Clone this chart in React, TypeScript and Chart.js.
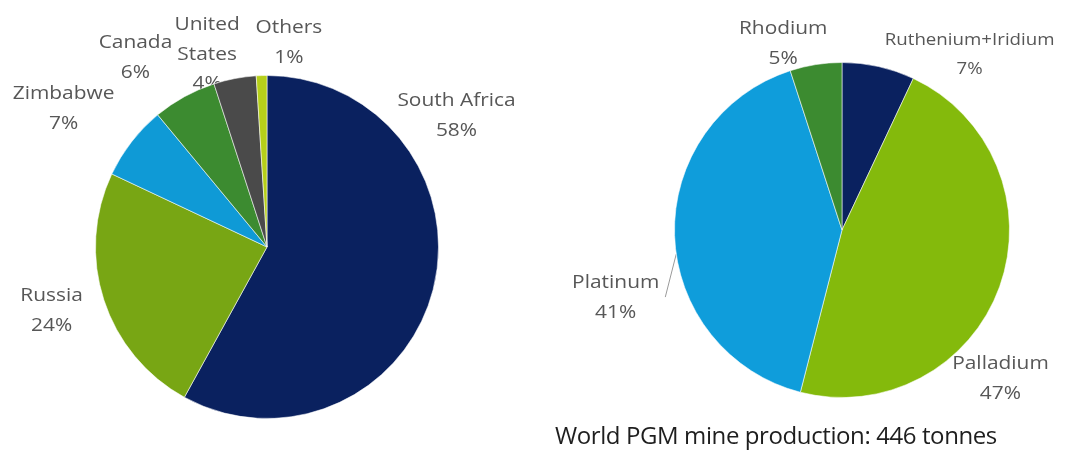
import React, { useEffect, useRef } from "react";
import { Chart, registerables } from "chart.js";

Chart.register(...registerables);

// ---- Data ----
const countryLabels = ["South Africa", "Russia", "Zimbabwe", "Canada", "United States", "Others"];
const countryShares = [58, 24, 7, 6, 4, 1];
const metalLabels = ["Ruthenium+Iridium", "Palladium", "Platinum", "Rhodium"];
const metalShares = [7, 47, 41, 5];
const titleText = "World PGM mine production: 446 tonnes";

// ---- Styles / layout ----
const countryColors = ["#0a215f", "#78a614", "#0f9ad6", "#3c8b30", "#4a4a4a", "#b6cf1a"];
const metalColors = ["#0a215f", "#84ba0c", "#0f9ddb", "#3c8b30"];
// label block centres relative to pie centre, in units of the radius
const countryLabelPos = [
  [1.105, -0.765],
  [-1.256, 0.372],
  [-1.186, -0.808],
  [-0.767, -1.105],
  [-0.349, -1.122],
  [0.128, -1.192],
];
const countryLabelLines = [
  ["South Africa", "58%"],
  ["Russia", "24%"],
  ["Zimbabwe", "7%"],
  ["Canada", "6%"],
  ["United", "States", "4%"],
  ["Others", "1%"],
];
const metalLabelPos = [
  [0.762, -1.048],
  [0.946, 0.887],
  [-1.351, 0.405],
  [-0.351, -1.113],
];
const metalLabelLines = [
  ["Ruthenium+Iridium", "7%"],
  ["Palladium", "47%"],
  ["Platinum", "41%"],
  ["Rhodium", "5%"],
];

const FONT = "'Open Sans', sans-serif";
const STRETCH = 1.1;

function makeLabelPlugin(pos: number[][], lines: string[][], sizes: number[], leader: number | null) {
  return {
    id: "pieLabels",
    beforeDatasetsDraw(chart: any) {
      const meta = chart.getDatasetMeta(0);
      const arc0: any = meta.data[0];
      if (!arc0) return;
      const cx = arc0.x;
      const cy = arc0.y;
      const r = arc0.outerRadius;
      const ctx = chart.ctx;
      ctx.save();
      ctx.fillStyle = "#575757";
      ctx.textAlign = "center";
      ctx.textBaseline = "middle";
      const lh = 29.5;
      pos.forEach((p, i) => {
        const bx = cx + p[0] * r;
        const by = cy + p[1] * r;
        const ls = lines[i];
        ctx.font = `${sizes[i]}px ${FONT}`;
        const top = by - ((ls.length - 1) * lh) / 2;
        ls.forEach((t, j) => {
          ctx.save();
          ctx.translate(bx, top + j * lh);
          ctx.scale(STRETCH, 1);
          ctx.fillText(t, 0, 0);
          ctx.restore();
        });
        if (leader === i) {
          // leader line from label to the slice edge
          const w = ctx.measureText(ls[0]).width * STRETCH;
          const x1 = bx + w / 2 + 6;
          const y1 = top + 14;
          const ty = y1 - 43;
          const x2 = cx - Math.sqrt(Math.max(r * r - (ty - cy) * (ty - cy), 0));
          ctx.strokeStyle = "#9a9a9a";
          ctx.lineWidth = 1;
          ctx.beginPath();
          ctx.moveTo(x1, y1);
          ctx.lineTo(x2, ty);
          ctx.stroke();
        }
      });
      ctx.restore();
    },
  };
}

function PieCanvas(props: {
  labels: string[];
  values: number[];
  colors: string[];
  width: number;
  height: number;
  padding: { left: number; right: number; top: number; bottom: number };
  plugin: any;
  style: React.CSSProperties;
}) {
  const ref = useRef<HTMLCanvasElement | null>(null);
  useEffect(() => {
    if (!ref.current) return;
    const chart = new Chart(ref.current, {
      type: "pie",
      data: {
        labels: props.labels,
        datasets: [
          {
            data: props.values,
            backgroundColor: props.colors,
            borderColor: "rgba(255,255,255,0.55)",
            borderWidth: 1,
          },
        ],
      },
      options: {
        responsive: false,
        animation: false,
        layout: { padding: props.padding },
        plugins: { legend: { display: false }, tooltip: { enabled: false } },
      },
      plugins: [props.plugin],
    });
    return () => chart.destroy();
  }, []);
  return <canvas ref={ref} width={props.width} height={props.height} style={props.style} />;
}

export default function App() {
  const leftPlugin = makeLabelPlugin(countryLabelPos, countryLabelLines, [19, 19, 19, 19, 19, 19], null);
  const rightPlugin = makeLabelPlugin(metalLabelPos, metalLabelLines, [17, 19, 19, 19], 2);
  return (
    <div style={{ position: "absolute", left: 0, top: 0, width: 1067, height: 450, background: "#fff", overflow: "hidden" }}>
      <PieCanvas
        labels={countryLabels}
        values={countryShares}
        colors={countryColors}
        width={534}
        height={450}
        padding={{ left: 95, right: 95, top: 75, bottom: 31 }}
        plugin={leftPlugin}
        style={{ position: "absolute", left: 0, top: 0, width: 534, height: 450 }}
      />
      <PieCanvas
        labels={metalLabels}
        values={metalShares}
        colors={metalColors}
        width={533}
        height={450}
        padding={{ left: 140, right: 57, top: 62, bottom: 52 }}
        plugin={rightPlugin}
        style={{ position: "absolute", left: 534, top: 0, width: 533, height: 450 }}
      />
      <div
        style={{
          position: "absolute",
          left: 555,
          top: 420,
          fontFamily: FONT,
          fontSize: 24,
          lineHeight: "30px",
          color: "#1e1e1e",
          whiteSpace: "nowrap",
          letterSpacing: "-0.4px",
        }}
      >
        {titleText}
      </div>
    </div>
  );
}
